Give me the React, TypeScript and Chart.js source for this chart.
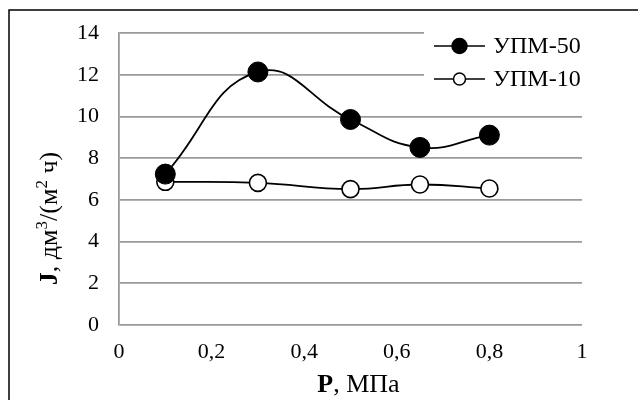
import React, { useEffect, useRef } from "react";
import { Chart, registerables } from "chart.js";

Chart.register(...registerables);

const P_VALUES = [0.1, 0.3, 0.5, 0.65, 0.8];
const UPM50 = [7.24, 12.14, 9.86, 8.52, 9.11];
const UPM10 = [6.87, 6.82, 6.52, 6.74, 6.55];
const SERIES_NAMES = ["УПМ-50", "УПМ-10"];
const X_TICK_LABELS = ["0", "0,2", "0,4", "0,6", "0,8", "1"];
const Y_TICK_LABELS = ["0", "2", "4", "6", "8", "10", "12", "14"];

const FONT = "'Liberation Serif', 'Times New Roman', serif";

const decorPlugin = {
  id: "decor",
  afterDraw(chart: any) {
    const ctx = chart.ctx;
    ctx.save();
    // outer frame (left & top visible)
    ctx.strokeStyle = "#000";
    ctx.lineWidth = 1.5;
    ctx.beginPath();
    ctx.moveTo(9, 400);
    ctx.lineTo(9, 10);
    ctx.lineTo(638, 10);
    ctx.stroke();

    // legend
    ctx.fillStyle = "#fff";
    ctx.fillRect(424, 27, 170, 68);
    const rows = [46, 79];
    chart.data.datasets.forEach((ds: any, i: number) => {
      const y = rows[i];
      ctx.strokeStyle = "#000";
      ctx.lineWidth = 1.5;
      ctx.beginPath();
      ctx.moveTo(434, y);
      ctx.lineTo(485, y);
      ctx.stroke();
      ctx.beginPath();
      const r = i === 0 ? 7.5 : 6;
      ctx.arc(459.5, y, r, 0, Math.PI * 2);
      ctx.fillStyle = ds.pointBackgroundColor;
      ctx.fill();
      ctx.lineWidth = 1.5;
      ctx.stroke();
      ctx.fillStyle = "#000";
      ctx.font = `24px ${FONT}`;
      ctx.textBaseline = "middle";
      ctx.textAlign = "left";
      ctx.fillText(ds.label, 493, y + 1);
    });

    // axis titles
    const drawParts = (parts: any[], x: number, y: number) => {
      let cx = x;
      parts.forEach((p) => {
        ctx.font = p.font;
        ctx.fillText(p.t, cx, y + (p.dy || 0));
        cx += ctx.measureText(p.t).width;
      });
      return cx - x;
    };
    const measure = (parts: any[]) => {
      let w = 0;
      parts.forEach((p) => {
        ctx.font = p.font;
        w += ctx.measureText(p.t).width;
      });
      return w;
    };
    ctx.fillStyle = "#000";
    ctx.textAlign = "left";
    ctx.textBaseline = "alphabetic";
    const reg = `26px ${FONT}`;
    const bold = `bold 26px ${FONT}`;
    const sup = `17px ${FONT}`;
    const xParts = [
      { t: "Р", font: bold },
      { t: ", МПа", font: reg },
    ];
    const xw = measure(xParts);
    drawParts(xParts, 358.5 - xw / 2, 392);

    const yParts = [
      { t: "J", font: bold },
      { t: ", дм", font: reg },
      { t: "3", font: sup, dy: -10 },
      { t: "/(м", font: reg },
      { t: "2", font: sup, dy: -10 },
      { t: " ч)", font: reg },
    ];
    const yw = measure(yParts);
    ctx.translate(57, 218.5);
    ctx.rotate(-Math.PI / 2);
    drawParts(yParts, -yw / 2, 0);
    ctx.restore();
  },
};

export default function App() {
  const ref = useRef<HTMLCanvasElement>(null);
  useEffect(() => {
    const toPts = (ys: number[]) => P_VALUES.map((x, i) => ({ x, y: ys[i] }));
    const chart = new Chart(ref.current!, {
      type: "line",
      data: {
        datasets: [
          {
            label: SERIES_NAMES[0],
            data: toPts(UPM50),
            borderColor: "#000",
            borderWidth: 1.8,
            pointRadius: 10,
            pointBackgroundColor: "#000",
            pointBorderColor: "#000",
            pointBorderWidth: 1,
            tension: 0.45,
            fill: false,
          },
          {
            label: SERIES_NAMES[1],
            data: toPts(UPM10),
            borderColor: "#000",
            borderWidth: 1.8,
            pointRadius: 8.5,
            pointBackgroundColor: "#fff",
            pointBorderColor: "#000",
            pointBorderWidth: 1.6,
            tension: 0.45,
            fill: false,
          },
        ],
      },
      options: {
        animation: false,
        responsive: true,
        maintainAspectRatio: false,
        layout: { padding: { left: 0, right: 56, top: 33, bottom: 0 } },
        plugins: { legend: { display: false }, tooltip: { enabled: false } },
        scales: {
          x: {
            type: "linear",
            min: 0,
            max: 1,
            afterFit: (s: any) => {
              s.height = 75;
            },
            afterBuildTicks: (s: any) => {
              s.ticks = X_TICK_LABELS.map((_, i) => ({ value: i * 0.2 }));
            },
            ticks: {
              callback: (_v: any, i: number) => X_TICK_LABELS[i],
              font: { family: FONT, size: 22 },
              color: "#000",
              padding: 14,
              maxRotation: 0,
              autoSkip: false,
            },
            grid: { display: false, drawTicks: false },
            border: { display: false },
          },
          y: {
            min: 0,
            max: 14,
            afterFit: (s: any) => {
              s.width = 119;
            },
            afterBuildTicks: (s: any) => {
              s.ticks = Y_TICK_LABELS.map((_, i) => ({ value: i * 2 }));
            },
            ticks: {
              callback: (_v: any, i: number) => Y_TICK_LABELS[i],
              font: { family: FONT, size: 22 },
              color: "#000",
              padding: 20,
              autoSkip: false,
            },
            grid: { color: "#9a9a9a", lineWidth: 1.8, drawTicks: false },
            border: { display: true, color: "#9a9a9a", width: 1.8 },
          },
        },
      },
      plugins: [decorPlugin],
    });
    return () => chart.destroy();
  }, []);
  return (
    <div style={{ position: "fixed", left: 0, top: 0, width: 638, height: 400, background: "#fff" }}>
      <canvas ref={ref} />
    </div>
  );
}
